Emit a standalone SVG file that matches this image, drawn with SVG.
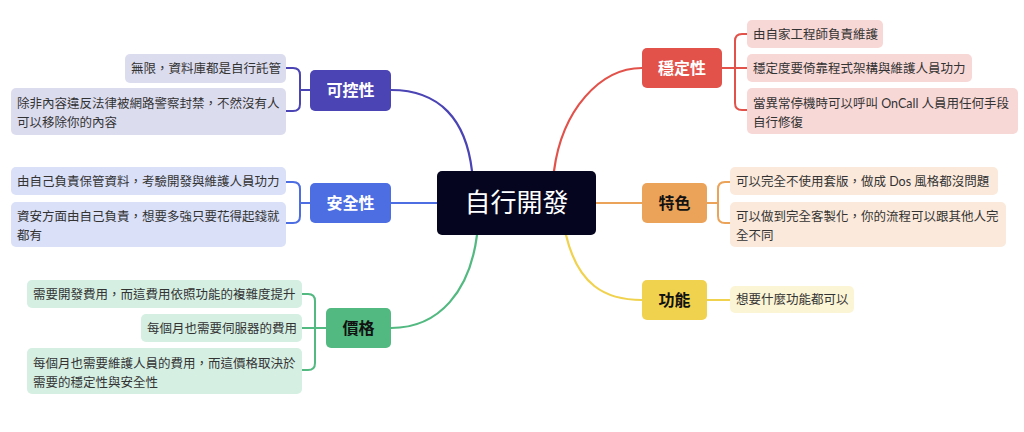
<svg xmlns="http://www.w3.org/2000/svg" width="1024" height="432" viewBox="0 0 1024 432">
<style>
.c{fill:none;stroke-width:2.2;stroke-linecap:round}
.b{fill:none;stroke-width:2}
.t{font-family:"Lato","Noto Sans CJK TC",sans-serif;font-size:12.5px;fill:#333}
.n{font-family:"Lato","Noto Sans CJK TC",sans-serif;font-size:16px;font-weight:bold;text-anchor:middle}
</style>
<rect width="1024" height="432" fill="#fff"/>
<g id="connectors">
<path class="c" stroke="#4b44b4" d="M391,90 C440,90 466,120 472,171"/>
<path class="c" stroke="#4d6ee3" d="M391,203 H437"/>
<path class="c" stroke="#52b981" d="M391,328 C440,328 470,290 477,235"/>
<path class="c" stroke="#e2524a" d="M554,171 C562,110 600,68 642,68"/>
<path class="c" stroke="#eba35a" d="M596,203 H642"/>
<path class="c" stroke="#f0d24e" d="M566,235 C578,285 605,300 642,300"/>
<path class="b" stroke="#4b44b4" d="M286,68 H293 Q300,68 300,75 V104 Q300,111 293,111 H286 M300,90 H310"/>
<path class="b" stroke="#4d6ee3" d="M286,182 H293 Q300,182 300,189 V216 Q300,223 293,223 H286 M300,203 H310"/>
<path class="b" stroke="#52b981" d="M302,294 H308 Q315,294 315,301 V363 Q315,370 308,370 H302 M302,328 H326"/>
<path class="b" stroke="#e2524a" d="M747,34 H742 Q735,34 735,41 V103 Q735,110 742,110 H747 M722,68 H747"/>
<path class="b" stroke="#eba35a" d="M730,182 H725 Q718,182 718,189 V216 Q718,223 725,223 H730 M707,203 H718"/>
<path class="b" stroke="#f0d24e" d="M707,300 H730"/>
</g>
<g id="root">
<rect x="437" y="171" width="159" height="64" rx="5" fill="#05051f"/>
<text x="516.5" y="212" font-family="Lato,'Noto Sans CJK TC',sans-serif" font-size="26" fill="#fff" text-anchor="middle">自行開發</text>
</g>
<g id="n-kongzhi">
<rect x="310" y="70" width="81" height="41" rx="5" fill="#4b44b4"/>
<text class="n" x="350.5" y="96" fill="#fff">可控性</text>
</g>
<g id="n-kongzhi-1">
<rect x="125" y="54" width="161" height="29" rx="5" fill="#dcdcef"/>
<text class="t" x="131" y="73">無限，資料庫都是自行託管</text>
</g>
<g id="n-kongzhi-2">
<rect x="11" y="88" width="275" height="47" rx="5" fill="#dcdcef"/>
<text class="t" x="17" y="107.5">除非內容違反法律被網路警察封禁，不然沒有人</text>
<text class="t" x="17" y="126.5">可以移除你的內容</text>
</g>
<g id="n-anquan">
<rect x="310" y="183" width="81" height="40" rx="5" fill="#4d6ee3"/>
<text class="n" x="350.5" y="209" fill="#fff">安全性</text>
</g>
<g id="n-anquan-1">
<rect x="11" y="167" width="275" height="28" rx="5" fill="#d9e0f8"/>
<text class="t" x="17" y="185.5">由自己負責保管資料，考驗開發與維護人員功力</text>
</g>
<g id="n-anquan-2">
<rect x="11" y="202" width="275" height="45" rx="5" fill="#d9e0f8"/>
<text class="t" x="17" y="220.5">資安方面由自己負責，想要多強只要花得起錢就</text>
<text class="t" x="17" y="239.5">都有</text>
</g>
<g id="n-jiage">
<rect x="326" y="308" width="65" height="40" rx="5" fill="#52b981"/>
<text class="n" x="358.5" y="334" fill="#111">價格</text>
</g>
<g id="n-jiage-1">
<rect x="27" y="280" width="275" height="28" rx="5" fill="#d5efe3"/>
<text class="t" x="33" y="298.5">需要開發費用，而這費用依照功能的複雜度提升</text>
</g>
<g id="n-jiage-2">
<rect x="141" y="314" width="161" height="28" rx="5" fill="#d5efe3"/>
<text class="t" x="147" y="332.5">每個月也需要伺服器的費用</text>
</g>
<g id="n-jiage-3">
<rect x="27" y="348" width="275" height="46" rx="5" fill="#d5efe3"/>
<text class="t" x="33" y="367.5">每個月也需要維護人員的費用，而這價格取決於</text>
<text class="t" x="33" y="386.5">需要的穩定性與安全性</text>
</g>
<g id="n-wending">
<rect x="642" y="48" width="80" height="40" rx="5" fill="#e2524a"/>
<text class="n" x="682" y="74" fill="#fff">穩定性</text>
</g>
<g id="n-wending-1">
<rect x="747" y="20" width="136" height="28" rx="5" fill="#f8d8d6"/>
<text class="t" x="753" y="38.5">由自家工程師負責維護</text>
</g>
<g id="n-wending-2">
<rect x="747" y="54" width="225" height="28" rx="5" fill="#f8d8d6"/>
<text class="t" x="753" y="72.5">穩定度要倚靠程式架構與維護人員功力</text>
</g>
<g id="n-wending-3">
<rect x="747" y="88" width="271" height="46" rx="5" fill="#f8d8d6"/>
<text class="t" x="753" y="107.5">當異常停機時可以呼叫 OnCall 人員用任何手段</text>
<text class="t" x="753" y="126.5">自行修復</text>
</g>
<g id="n-tese">
<rect x="642" y="183" width="65" height="40" rx="5" fill="#eba35a"/>
<text class="n" x="674.5" y="209" fill="#111">特色</text>
</g>
<g id="n-tese-1">
<rect x="730" y="167" width="268" height="28" rx="5" fill="#fbeadb"/>
<text class="t" x="736" y="185.5">可以完全不使用套版，做成 Dos 風格都沒問題</text>
</g>
<g id="n-tese-2">
<rect x="730" y="202" width="276" height="45" rx="5" fill="#fbeadb"/>
<text class="t" x="736" y="220.5">可以做到完全客製化，你的流程可以跟其他人完</text>
<text class="t" x="736" y="239.5">全不同</text>
</g>
<g id="n-gongneng">
<rect x="642" y="280" width="65" height="40" rx="5" fill="#f0d24e"/>
<text class="n" x="674.5" y="306" fill="#111">功能</text>
</g>
<g id="n-gongneng-1">
<rect x="730" y="286" width="124" height="27" rx="5" fill="#fcf5d5"/>
<text class="t" x="736" y="304">想要什麼功能都可以</text>
</g>
</svg>
